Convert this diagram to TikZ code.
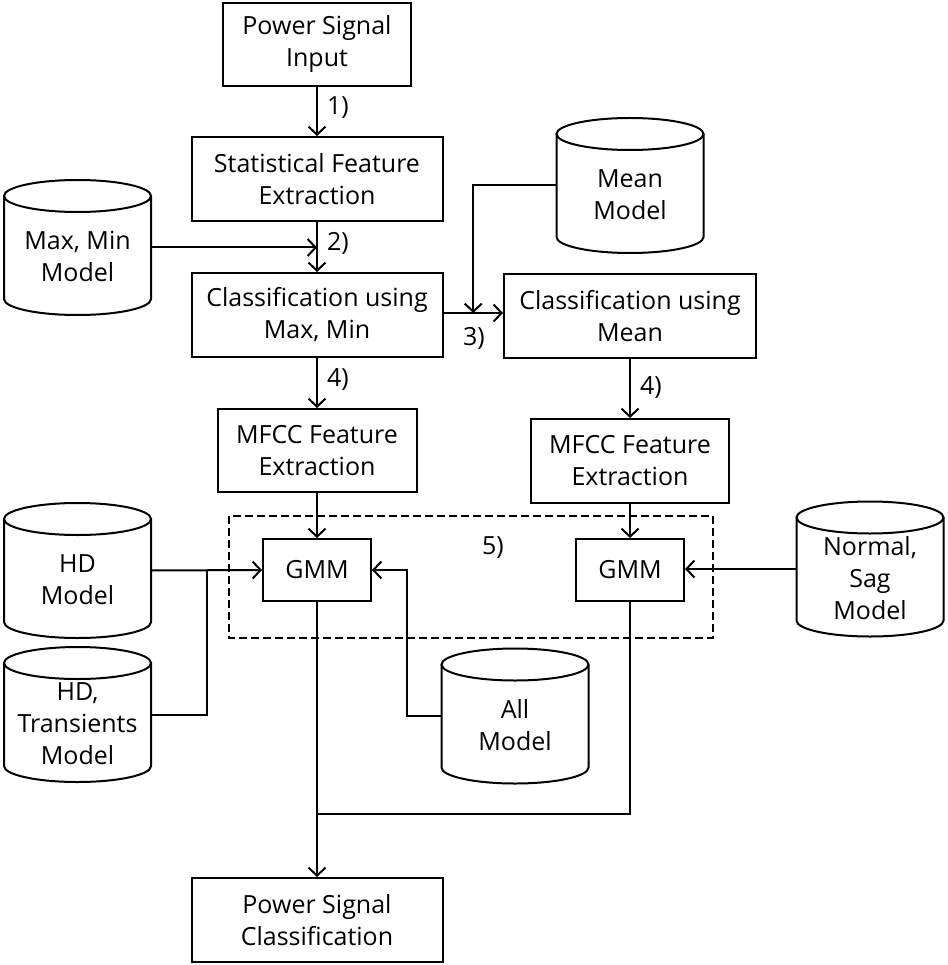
\documentclass[tikz,border=0pt]{standalone}
\usepackage{fontspec}
\setmainfont{Open Sans}
\usetikzlibrary{arrows.meta,calc}
\tikzset{
	procbox/.style={draw, line width=2pt, align=center, inner sep=0pt},
	dbanchor/.style={inner sep=0pt, minimum width=147pt, minimum height=100pt},
	dbtext/.style={align=center, inner sep=0pt},
	steplabel/.style={inner sep=0pt},
	flow/.style={line width=2pt, -{Straight Barb[length=8pt,width=17pt]}},
	wire/.style={line width=2pt},
	groupbox/.style={line width=1.8pt, dash pattern=on 8pt off 4pt}
}
% model store (cylinder): name, centre x, centre y, text
\def\modeldb(#1)(#2,#3)#4{%
	\draw[line width=2pt] (#2-73.5,#3-51.5) -- (#2-73.5,#3+51.5) arc (180:360:73.5pt and 16pt) -- (#2+73.5,#3-51.5);
	\draw[line width=2pt] (#2,#3-51.5) ellipse (73.5pt and 16pt);
	\node[dbanchor] (#1) at (#2,#3) {};
	\node[dbtext] (#1-txt) at (#2,#3+9) {#4};
}

\begin{document}
\begin{tikzpicture}[x=1pt, y=-1pt, font=\fontsize{25}{32}\selectfont]
			%%%%% START %%%%%
			\useasboundingbox (0,0) rectangle (947,965);
			
			\node[procbox, minimum width=188pt, minimum height=83pt] (input) at (317,44.5) {Power Signal\\Input};
			\node[procbox, minimum width=251pt, minimum height=84pt] (statfeat) at (317,179) {Statistical Feature\\Extraction};
			\node[procbox, minimum width=251pt, minimum height=84pt] (clsmaxmin) at (317,315) {Classification using\\Max, Min};
			\node[procbox, minimum width=252pt, minimum height=84pt] (clsmean) at (630,316) {Classification using\\Mean};
			
			\node[procbox, minimum width=199pt, minimum height=83pt] (mfccL) at (317,450.5) {MFCC Feature\\Extraction};
			\node[procbox, minimum width=198pt, minimum height=84pt] (mfccR) at (630,461) {MFCC Feature\\Extraction};
			
			\draw[groupbox] (229,516) rectangle (713,638);
			\node[procbox, minimum width=108pt, minimum height=62pt] (gmmL) at (317,570) {GMM};
			\node[procbox, minimum width=108pt, minimum height=62pt] (gmmR) at (630,570) {GMM};
			
			\node[procbox, minimum width=251pt, minimum height=84pt] (output) at (317,920) {Power Signal\\Classification};
			
			\modeldb(maxmin)(77.5,247.5){Max, Min\\Model}
			\modeldb(mean)(630,185.5){Mean\\Model}
			\modeldb(hd)(77.5,570.5){HD\\Model}
			\modeldb(hdtr)(77.5,714.5){HD,\\Transients\\Model}
			\modeldb(all)(515,716){All\\Model}
			\modeldb(normsag)(870,569){Normal,\\Sag\\Model}
			
			\node[steplabel] (lab1) at (338,108) {1)};
			\node[steplabel] (lab2) at (338,243) {2)};
			\node[steplabel] (lab3) at (474,338) {3)};
			\node[steplabel] (lab4L) at (338,380) {4)};
			\node[steplabel] (lab4R) at (651,388) {4)};
			\node[steplabel] (lab5) at (493,548) {5)};
			
			\draw[flow] (input) -- (statfeat);
			\draw[flow] (statfeat) -- (clsmaxmin);
			\draw[flow] (maxmin.east) -- (maxmin.east -| clsmaxmin.north);
			\draw[flow] (clsmaxmin.east |- 0,313) -- (clsmean.west |- 0,313);
			\coordinate (meanjoin) at ($(clsmaxmin.east |- 0,313)!0.5!(clsmean.west |- 0,313)$);
			\draw[flow] (mean.west) -| (meanjoin);
			\draw[flow] (clsmaxmin) -- (mfccL);
			\draw[flow] (clsmean) -- (mfccR);
			\draw[flow] (mfccL) -- (gmmL);
			\draw[flow] (mfccR) -- (gmmR);
			
			\draw[flow] (hd.east) -- (gmmL.west);
			\coordinate (hdjoin) at (207,570);
			\draw[wire] (hdtr.east) -| (hdjoin);
			\coordinate (alljoin) at (407,570);
			\draw[flow] (all.west) -| (alljoin) -- (gmmL.east);
			\draw[flow] (normsag.west) -- (normsag.west -| gmmR.east);
			
			\coordinate (outjoin) at (317,814);
			\draw[flow] (gmmL) -- (output);
			\draw[wire] (gmmR.south) |- (outjoin);
			%%%%% END %%%%%
		\end{tikzpicture}
\end{document}
